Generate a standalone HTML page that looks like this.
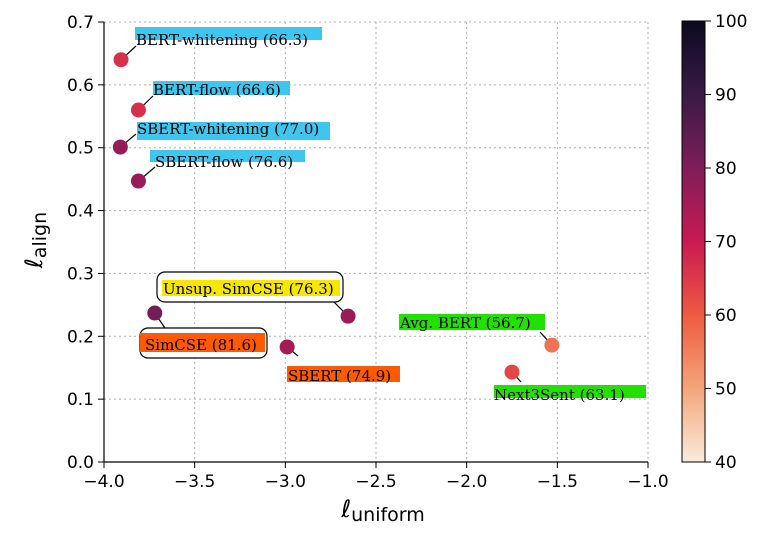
<!DOCTYPE html>
<html><head><meta charset="utf-8"><style>
body{margin:0;background:#fff}
svg text{font-family:"DejaVu Sans","Liberation Sans",sans-serif}
.lbl{font-family:"DejaVu Serif","Liberation Serif",serif;font-size:15px}
</style></head><body>
<svg id="c" width="762" height="536" xmlns="http://www.w3.org/2000/svg">
<defs><linearGradient id="cg" x1="0" y1="1" x2="0" y2="0">
<stop offset="0" stop-color="#faebdd"/><stop offset="0.1667" stop-color="#f4a57a"/><stop offset="0.3333" stop-color="#ee5a40"/><stop offset="0.5" stop-color="#c91a52"/><stop offset="0.6667" stop-color="#7f1d5a"/><stop offset="0.8333" stop-color="#3a1a45"/><stop offset="1" stop-color="#0b0a1f"/></linearGradient></defs>
</svg>
<script>
const names=["BERT-whitening","BERT-flow","SBERT-whitening","SBERT-flow","Unsup. SimCSE","SimCSE","SBERT","Avg. BERT","Next3Sent"];
const uniform=[-3.906,-3.81,-3.91,-3.81,-2.654,-3.72,-2.99,-1.53,-1.75];
const align=[0.640,0.560,0.501,0.447,0.232,0.237,0.183,0.186,0.143];
const scores=[66.3,66.6,77.0,76.6,76.3,81.6,74.9,56.7,63.1];
const xTicks=[-4.0,-3.5,-3.0,-2.5,-2.0,-1.5,-1.0];
const yTicks=[0.0,0.1,0.2,0.3,0.4,0.5,0.6,0.7];
const cbTicks=[40,50,60,70,80,90,100];
const svg=document.getElementById('c');const NS='http://www.w3.org/2000/svg';
const X0=104,X1=648,Y0=462,Y1=22;
const sx=v=>X0+(v+4)/3*(X1-X0), sy=v=>Y0-v/0.7*(Y0-Y1);
function mk(t,a,p){const e=document.createElementNS(NS,t);for(const k in a)e.setAttribute(k,a[k]);(p||svg).appendChild(e);return e;}
const stops=[[40,[250,235,221]],[50,[244,165,122]],[60,[238,90,64]],[70,[201,26,82]],[80,[127,29,90]],[90,[58,26,69]],[100,[11,10,31]]];
function cmap(v){for(let i=0;i<stops.length-1;i++){const[a,ca]=stops[i],[b,cb]=stops[i+1];if(v<=b){const t=Math.max(0,(v-a)/(b-a));return 'rgb('+ca.map((c,j)=>Math.round(c+(cb[j]-c)*t)).join(',')+')';}}return 'rgb(11,10,31)';}
xTicks.forEach(v=>{const x=sx(v);
const g=mk('line',{x1:x,y1:Y1,x2:x,y2:Y0,stroke:'#b0b0b0','stroke-dasharray':'2,3','stroke-width':1});

mk('line',{x1:x,y1:Y0,x2:x,y2:Y0+6,stroke:'#000'});
const t=mk('text',{x:x,y:Y0+25,'text-anchor':'middle','font-size':17});t.textContent=v.toFixed(1).replace('-','−');
});
yTicks.forEach(v=>{const y=sy(v);
const g=mk('line',{x1:X0,y1:y,x2:X1,y2:y,stroke:'#b0b0b0','stroke-dasharray':'2,3','stroke-width':1});

mk('line',{x1:X0-6,y1:y,x2:X0,y2:y,stroke:'#000'});
const t=mk('text',{x:X0-10,y:y+6,'text-anchor':'end','font-size':17});t.textContent=v.toFixed(1);
});
const ax=mk('path',{d:`M${X0},${Y1}V${Y0}H${X1}`,fill:'none',stroke:'#000','stroke-width':1.2});

const lay=[[135,27,187,13,'#3ec6ef',136,45,0],[153,81,137,14,'#3ec6ef',153,95,0],[137,122,193,18,'#3ec6ef',137,134,0],[150,150,155,12,'#3ec6ef',155,167,0],
[162,280,178,16,'#f6e600',163,294,[157,272,186,30]],[140,333,125,19,'#ff5a00',145,350,[140,328,127,30]],[287,366,113,16,'#ff5a00',288,381,0],[399,314,146,16,'#22e000',400,328,0],[494,385,152,13,'#22e000',494,400,0]];
const anchors=[[136,46],[153,96],[136,134],[155,167],[334,302],[165,328],[298,356],[540,332],[521,382]];
names.forEach((n,i)=>{const L=lay[i];
mk('line',{x1:sx(uniform[i]),y1:sy(align[i]),x2:anchors[i][0],y2:anchors[i][1],stroke:'#000','stroke-width':1.2});
if(L[7]){const b=mk('rect',{x:L[7][0],y:L[7][1],width:L[7][2],height:L[7][3],rx:8,fill:'#fff',stroke:'#000','stroke-width':1.2});}
const h=mk('rect',{x:L[0],y:L[1],width:L[2],height:L[3],fill:L[4]});
const t=mk('text',{x:L[5],y:L[6],class:'lbl'});t.textContent=n+' ('+scores[i].toFixed(1)+')';
});
names.forEach((n,i)=>{const c=mk('circle',{cx:sx(uniform[i]),cy:sy(align[i]),r:7.5,fill:cmap(scores[i])});
});
const xt=mk('text',{x:383,y:517,'text-anchor':'middle','font-size':24,'font-family':'DejaVu Serif,serif'});xt.innerHTML='ℓ<tspan font-size="19" dy="4">uniform</tspan>';

const yt=mk('text',{x:0,y:0,'text-anchor':'middle','font-size':24,transform:'translate(42,240) rotate(-90)','font-family':'DejaVu Serif,serif'});yt.innerHTML='ℓ<tspan font-size="19" dy="4">align</tspan>';

const CB0=682,CB1=705,CT=21,CBm=462;
const cb=mk('rect',{x:CB0,y:CT,width:CB1-CB0,height:CBm-CT,fill:'url(#cg)',stroke:'#000','stroke-width':1});

cbTicks.forEach(v=>{const y=CBm-(v-40)/60*(CBm-CT);mk('line',{x1:CB1,y1:y,x2:CB1+6,y2:y,stroke:'#000'});
const t=mk('text',{x:CB1+10,y:y+6,'font-size':17});t.textContent=v;
});
</script>
</body></html>
